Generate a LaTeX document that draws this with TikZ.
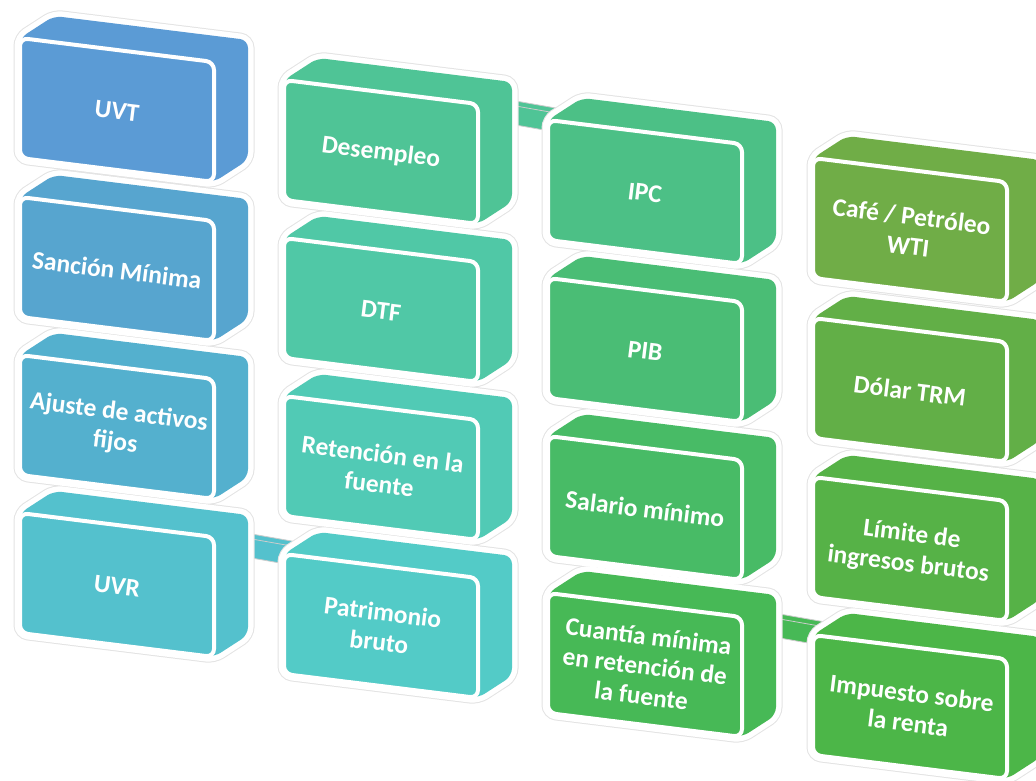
\documentclass[tikz,border=0pt]{standalone}
\usepackage{fontspec}
\setmainfont{Carlito}
\definecolor{cA}{HTML}{5B9BD5}
\definecolor{cB}{HTML}{57A5CF}
\definecolor{cC}{HTML}{54B0CE}
\definecolor{cD}{HTML}{54C1CD}
\definecolor{cE}{HTML}{53CBC7}
\definecolor{cF}{HTML}{51CAB5}
\definecolor{cG}{HTML}{50C8A6}
\definecolor{cH}{HTML}{4FC496}
\definecolor{cI}{HTML}{4CC086}
\definecolor{cJ}{HTML}{4ABD75}
\definecolor{cK}{HTML}{48BB66}
\definecolor{cL}{HTML}{47B956}
\definecolor{cM}{HTML}{4CB648}
\definecolor{cN}{HTML}{56B247}
\definecolor{cO}{HTML}{62AF47}
\definecolor{cP}{HTML}{70AD47}
\newcommand\hexlayer[3]{%
  \path[shift={(#1,#2)},#3,rounded corners=8pt] (0,0) -- (34,-22) -- (228,2) -- (228,122) -- (194,144) -- (0,120) -- cycle;}
\newcommand\cubebox[5]{%
  \begin{scope}[shift={(#1,#2)}]
    \fill[#3, rounded corners=8pt] (0,0) -- (34,-22) -- (228,2) -- (228,122) -- (194,144) -- (0,120) -- cycle;
    \draw[white, line width=4pt, fill=#3, rounded corners=8pt] (0,0) -- (194,24) -- (194,144) -- (0,120) -- cycle;
    \node[boxtext] (#4) at (97,73) {#5};
  \end{scope}}
\newcommand\linkbar[3]{%
  \begin{scope}[shift={(#1,#2)}]
    \draw[white, line width=4pt] (226,20) -- (300,33) -- (300,57) -- (226,44) -- cycle;
    \fill[#3, draw=gray!40, line width=0.8pt] (226,20) -- (300,33) -- (300,57) -- (226,44) -- cycle;
    \draw[gray!40, line width=0.8pt] (226,25) -- (300,38);
  \end{scope}}
\begin{document}
\begin{tikzpicture}[x=1pt,y=-1pt,
  boxtext/.style={text=white,font=\bfseries\fontsize{25.5}{30}\selectfont,align=center,rotate=-7.05,inner sep=0pt}]
\useasboundingbox (0,0) rectangle (1036,781);
\clip (0,0) rectangle (1036,781);
% connectors
\linkbar{20}{513}{cD}
\linkbar{284}{80}{cH}
\linkbar{548}{593}{cL}
% outer outlines
\foreach \X/\Y in {20/38,20/197,20/355,20/513,284/80,284/238,284/396,284/554,548/120,548/278,548/436,548/593,813/158,813/318,813/477,813/635}
  {\hexlayer{\X}{\Y}{draw=gray!22,line width=13pt}}
\foreach \X/\Y in {20/38,20/197,20/355,20/513,284/80,284/238,284/396,284/554,548/120,548/278,548/436,548/593,813/158,813/318,813/477,813/635}
  {\hexlayer{\X}{\Y}{draw=white,line width=11pt}}
% column 1
\cubebox{20}{38}{cA}{uvt}{UVT}
\cubebox{20}{197}{cB}{sancion}{Sanción Mínima}
\cubebox{20}{355}{cC}{ajuste}{Ajuste de activos\\fijos}
\cubebox{20}{513}{cD}{uvr}{UVR}
% column 2
\cubebox{284}{80}{cH}{desempleo}{Desempleo}
\cubebox{284}{238}{cG}{dtf}{DTF}
\cubebox{284}{396}{cF}{retencion}{Retención en la\\fuente}
\cubebox{284}{554}{cE}{patrimonio}{Patrimonio\\bruto}
% column 3
\cubebox{548}{120}{cI}{ipc}{IPC}
\cubebox{548}{278}{cJ}{pib}{PIB}
\cubebox{548}{436}{cK}{salario}{Salario mínimo}
\cubebox{548}{593}{cL}{cuantia}{Cuantía mínima\\en retención de\\la fuente}
% column 4
\cubebox{813}{158}{cP}{cafe}{Café / Petróleo\\WTI}
\cubebox{813}{318}{cO}{dolar}{Dólar TRM}
\cubebox{813}{477}{cN}{limite}{Límite de\\ingresos brutos}
\cubebox{813}{635}{cM}{impuesto}{Impuesto sobre\\la renta}
\end{tikzpicture}
\end{document}
